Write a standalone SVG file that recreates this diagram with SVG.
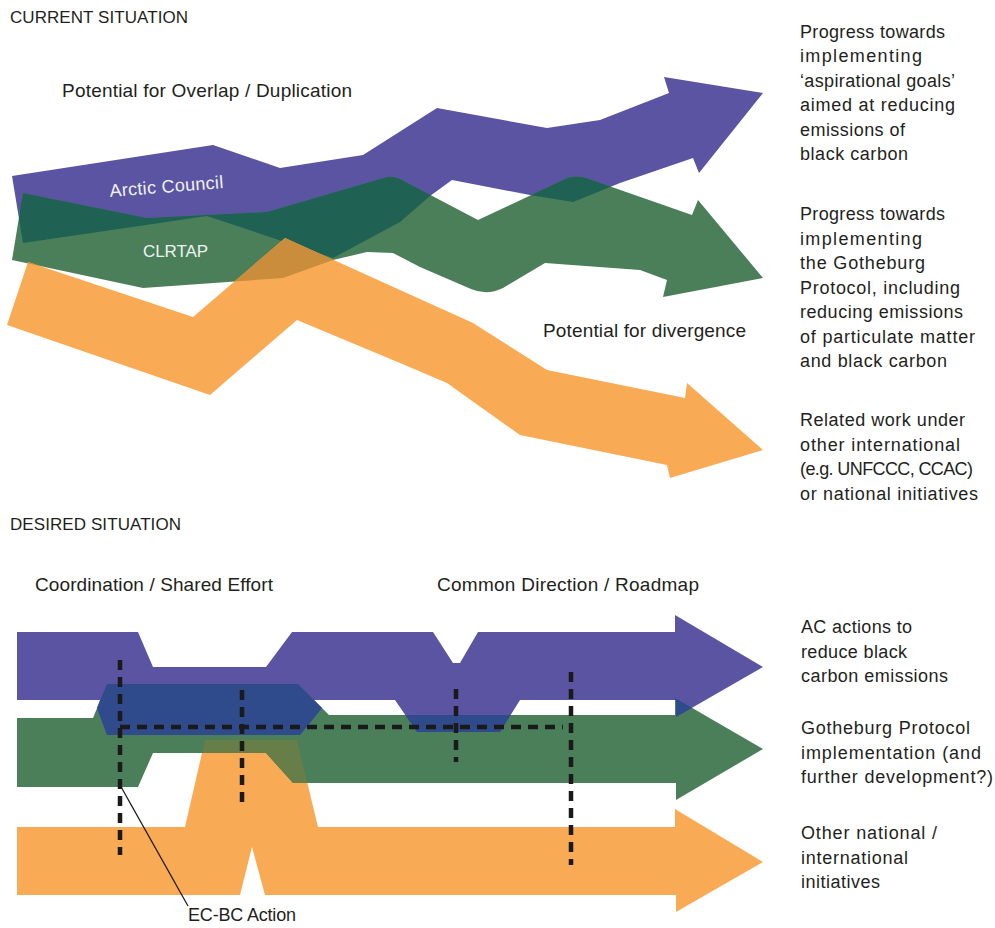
<svg xmlns="http://www.w3.org/2000/svg" width="995" height="928" viewBox="0 0 995 928">
<style>
  .purple { fill: #5a54a3; }
  .green { fill: #4a7f5a; }
  .orange { fill: #f9aa55; }
  .pg-top { fill: #1f6253; }
  .og-top { fill: #c98d3c; }
  .pg-bot { fill: #2f4b8c; }
  .og-bot { fill: #677e48; }
  text { font-family: "Liberation Sans", Arial, sans-serif; fill: #231f20; }
  .head { font-size: 17px; }
  .lbl { font-size: 19px; }
  .side { font-size: 18px; }
  .inner { font-size: 18px; fill: #eef3ef; }
  .dash { stroke: #1a1a1a; stroke-width: 4.5; stroke-dasharray: 10 7; fill: none; }
  .ptr { stroke: #1a1a1a; stroke-width: 1.3; fill: none; }
</style>
<defs>
  <path id="p-ac-top" d="M12,176 L213,145 L280,168 L363,155 L437,108 L547,128 L600,120 L669,93 L664,77 L763,93 L699,173 L693,158 L620,183 L573,202 L530,195 L452,180 L430,196 L400,222 L333,258 L207,216 L23,243 Z"/>
  <path id="p-cl-top" d="M23,193 L147,218 L267,212 L387,177 Q393,176 400,179 L478,220 L563,180 Q574,174 586,178 L692,215 L698,200 L763,278 L663,297 L667,280 L640,270 L545,263 L503,288 Q487,296 471,289 L420,267 L393,253 L367,252 L333,260 L283,278 L143,288 L12,260 Z"/>
  <path id="p-ot-top" d="M28,262 L193,317 L285,238 L400,290 L473,323 L547,370 L685,398 L687,383 L763,450 L670,478 L667,465 L520,435 L447,383 L400,363 L297,320 L210,395 L7,325 Z"/>
  <path id="p-ot-bot" d="M17,827 L185,827 L205,740 L297,740 L318,827 L675,827 L675,809 L763,862 L676,912 L676,895 L265,895 L252,847 L240,895 L17,895 Z"/>
  <path id="p-gp-bot" d="M17,718 L93,718 L107,684 L298,684 L329,715 L675,715 L675,698 L763,749 L676,800 L676,783 L293,783 L266,753 L153,753 L138,787 L17,787 Z"/>
  <path id="p-ac-bot" d="M17,632 L138,632 L153,667 L266,667 L292,632 L433,632 L453,663 L460,663 L478,632 L675,632 L675,615 L763,667 L676,717 L676,700 L520,700 L500,732 L417,732 L395,700 L314,700 L322,708 L300,735 L107,735 L97,708 L100,700 L17,700 Z"/>
  <clipPath id="clip-cl-top"><use href="#p-cl-top"/></clipPath>
  <clipPath id="clip-gp-bot"><use href="#p-gp-bot"/></clipPath>
</defs>
<rect width="995" height="928" fill="#ffffff"/>

<text class="head" x="10" y="23" textLength="178">CURRENT SITUATION</text>
<text class="lbl" x="62" y="97" textLength="290">Potential for Overlap / Duplication</text>
<text class="lbl" x="543" y="337" textLength="203">Potential for divergence</text>

<!-- Current situation bands -->
<g id="arctic-council-current">
  <use href="#p-ac-top" class="purple"/>
</g>
<g id="clrtap-current">
  <use href="#p-cl-top" class="green"/>
  <use href="#p-ac-top" class="pg-top" clip-path="url(#clip-cl-top)"/>
</g>
<g id="other-current">
  <use href="#p-ot-top" class="orange"/>
  <use href="#p-ot-top" class="og-top" clip-path="url(#clip-cl-top)"/>
</g>
<g id="band-labels-current">
  <text class="inner" transform="translate(110,197) rotate(-4.5)" textLength="114">Arctic Council</text>
  <text class="inner" x="143" y="257" style="font-size:17px" textLength="65">CLRTAP</text>
</g>

<g id="label-ac-current">
  <text class="side" x="800" y="37.5" textLength="145">Progress towards</text>
  <text class="side" x="800" y="62" textLength="122">implementing</text>
  <text class="side" x="800" y="86.5" textLength="155">‘aspirational goals’</text>
  <text class="side" x="800" y="111" textLength="155">aimed at reducing</text>
  <text class="side" x="800" y="135.5" textLength="105">emissions of</text>
  <text class="side" x="800" y="160" textLength="108">black carbon</text>
</g>
<g id="label-clrtap-current">
  <text class="side" x="800" y="220" textLength="145">Progress towards</text>
  <text class="side" x="800" y="244.5" textLength="122">implementing</text>
  <text class="side" x="800" y="269" textLength="125">the Gotheburg</text>
  <text class="side" x="800" y="293.5" textLength="160">Protocol, including</text>
  <text class="side" x="800" y="318" textLength="163">reducing emissions</text>
  <text class="side" x="800" y="342.5" textLength="175">of particulate matter</text>
  <text class="side" x="800" y="367" textLength="147">and black carbon</text>
</g>
<g id="label-other-current">
  <text class="side" x="800" y="426" textLength="165">Related work under</text>
  <text class="side" x="800" y="450.5" textLength="160">other international</text>
  <text class="side" x="800" y="475" textLength="173">(e.g. UNFCCC, CCAC)</text>
  <text class="side" x="800" y="499.5" textLength="178">or national initiatives</text>
</g>

<text class="head" x="10" y="530" textLength="171">DESIRED SITUATION</text>
<text class="lbl" x="35" y="591" textLength="238">Coordination / Shared Effort</text>
<text class="lbl" x="437" y="591" textLength="262">Common Direction / Roadmap</text>

<!-- Desired situation bands -->
<g id="other-desired">
  <use href="#p-ot-bot" class="orange"/>
</g>
<g id="gotheburg-desired">
  <use href="#p-gp-bot" class="green"/>
  <use href="#p-ot-bot" class="og-bot" clip-path="url(#clip-gp-bot)"/>
</g>
<g id="ac-desired">
  <use href="#p-ac-bot" class="purple"/>
  <use href="#p-ac-bot" class="pg-bot" clip-path="url(#clip-gp-bot)"/>
</g>

<g id="connectors">
  <line class="dash" x1="120" y1="660" x2="120" y2="855"/>
  <line class="dash" x1="120" y1="727" x2="563" y2="727"/>
  <line class="dash" x1="242" y1="690" x2="242" y2="802"/>
  <line class="dash" x1="456" y1="689" x2="456" y2="762"/>
  <line class="dash" x1="571" y1="672" x2="571" y2="865"/>
  <line class="ptr" x1="120" y1="785" x2="188" y2="906"/>
</g>

<g id="ec-bc-action">
  <text class="side" x="188" y="921" textLength="108">EC-BC Action</text>
</g>

<g id="label-ac-desired">
  <text class="side" x="801" y="633" textLength="111">AC actions to</text>
  <text class="side" x="801" y="657.5" textLength="106">reduce black</text>
  <text class="side" x="801" y="682" textLength="147">carbon emissions</text>
</g>
<g id="label-gotheburg-desired">
  <text class="side" x="801" y="734" textLength="169">Gotheburg Protocol</text>
  <text class="side" x="801" y="758.5" textLength="180">implementation (and</text>
  <text class="side" x="801" y="783" textLength="192">further development?)</text>
</g>
<g id="label-other-desired">
  <text class="side" x="801" y="839" textLength="136">Other national /</text>
  <text class="side" x="801" y="863.5" textLength="107">international</text>
  <text class="side" x="801" y="888" textLength="79">initiatives</text>
</g>
</svg>
